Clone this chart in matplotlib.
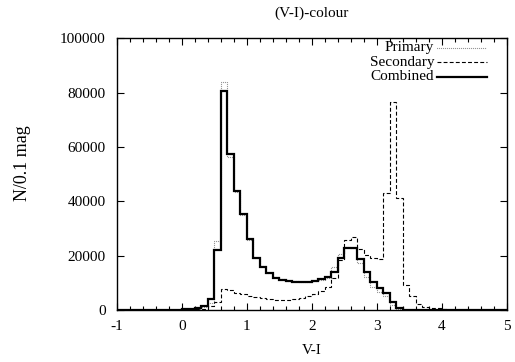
import numpy as np
import matplotlib
matplotlib.use("Agg")
import matplotlib.pyplot as plt

# bin edges of the histogram (V-I, width 0.1 mag)
edges = np.round(np.linspace(-1.0, 5.0, 61), 1)

combined = [0, 0, 0, 0, 50, 80, 120, 170, 230, 300,
            400, 600, 1000, 1800, 4100,
            22200, 80700, 57300, 43800, 35300,
            26100, 19100, 16100, 13600, 11900,
            11300, 10900, 10600, 10400, 10500,
            10900, 11500, 12300, 14100, 19200,
            23100, 23100, 18900, 14200, 10300,
            8100, 6300, 3000, 1000, 300,
            150, 80, 50, 30, 20,
            10, 0, 0, 0, 0, 0, 0, 0, 0, 0]

primary = [0, 0, 0, 0, 30, 50, 80, 120, 160, 220,
           300, 450, 700, 1400, 2900,
           25500, 84000, 56200, 43500, 35000,
           26000, 19300, 16300, 13800, 12200,
           11500, 11000, 10700, 10500, 10600,
           11000, 11300, 11900, 15800, 20600,
           23300, 23000, 17300, 12400, 8700,
           6900, 5400, 2000, 600, 200,
           100, 50, 30, 20, 10,
           0, 0, 0, 0, 0, 0, 0, 0, 0, 0]

secondary = [0, 0, 0, 0, 0, 10, 20, 30, 50, 80,
             100, 200, 400, 700, 1500,
             3200, 8000, 7500, 6500, 5900,
             5300, 4800, 4500, 4100, 3800,
             3700, 3800, 4200, 4700, 5300,
             6000, 7000, 8700, 11800, 18500,
             25900, 27100, 22500, 20500, 19200,
             19000, 43000, 76600, 41200, 9400,
             5500, 2200, 1200, 800, 900,
             600, 300, 200, 100, 50, 30, 0, 0, 0, 0]

labels = ["Primary", "Secondary", "Combined"]
xticks = [-1, 0, 1, 2, 3, 4, 5]
yticks = [0, 20000, 40000, 60000, 80000, 100000]

plt.rcParams['font.family'] = ['Liberation Serif', 'DejaVu Serif']
plt.rcParams['font.size'] = 11

fig = plt.figure(figsize=(5.15, 3.62), dpi=100)
ax = fig.add_axes([0.2266, 0.1423, 0.9839 - 0.2266, 0.895 - 0.1423])

styles = [dict(color='#333333', lw=0.8, ls=(0, (0.5, 1.3))),
          dict(color='black', lw=0.8, ls=(0, (3.5, 2.0))),
          dict(color='black', lw=1.6, ls='-')]

for vals, st in zip([primary, secondary, combined], styles):
    ax.stairs(vals, edges, baseline=None, **st)

ax.set_xlim(-1, 5)
ax.set_ylim(0, 100000)
ax.set_xticks(xticks)
ax.set_xticklabels([str(t) for t in xticks])
ax.set_yticks(yticks)
ax.set_yticklabels([str(t) for t in yticks])
ax.set_xticks(np.round(np.arange(-1, 5.01, 0.2), 1), minor=True)
ax.tick_params(which='both', direction='in', top=True, right=True, width=0.8)
ax.tick_params(which='major', length=5)
ax.tick_params(which='minor', length=3)
ax.tick_params(axis='y', pad=8)
ax.tick_params(axis='x', pad=7)
for s in ax.spines.values():
    s.set_linewidth(1.0)

ax.set_title("(V-I)-colour", fontsize=11, pad=15)
ax.set_xlabel("V-I", labelpad=8)
ax.set_ylabel("N/0.1 mag", fontsize=13)
ax.yaxis.set_label_coords((31 - 116.7) / (506.7 - 116.7),
                          1 - (163 - 38) / (310.5 - 38))

# gnuplot-style key: right-aligned text followed by line sample
key_y = [47.5, 62.0, 76.5]
for lab, st, yp in zip(labels, styles, key_y):
    yf = 1 - (yp - 38) / (310.5 - 38)
    x_text = (434 - 116.7) / (506.7 - 116.7)
    x0 = (437 - 116.7) / (506.7 - 116.7)
    x1 = (487 - 116.7) / (506.7 - 116.7)
    ax.text(x_text, yf, lab, transform=ax.transAxes, ha='right', va='center')
    ax.plot([x0, x1], [yf, yf], transform=ax.transAxes, **st)

fig.savefig("out.png", dpi=100)
